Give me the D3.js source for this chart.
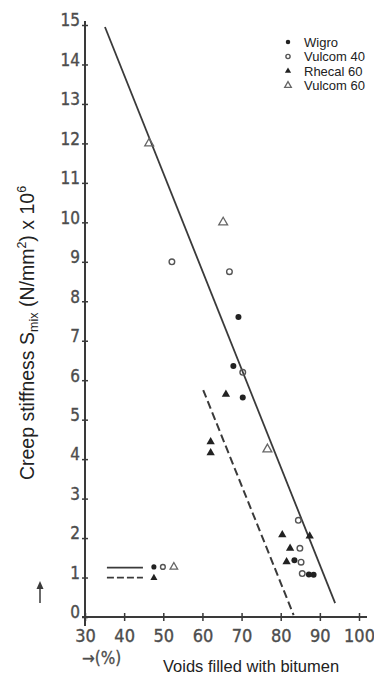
<!DOCTYPE html>
<html>
<head>
<meta charset="utf-8">
<script src="https://cdn.jsdelivr.net/npm/d3@7"></script>
<style>
  html, body { margin: 0; padding: 0; background: #fff; }
  svg { display: block; }
</style>
</head>
<body>
<svg id="chart" width="374" height="677"></svg>
<script>
// Voids filled with bitumen (%) vs creep stiffness of the mix
const xTicks = [30, 40, 50, 60, 70, 80, 90, 100];
const yTicks = [0, 1, 2, 3, 4, 5, 6, 7, 8, 9, 10, 11, 12, 13, 14, 15];

const wigro    = [[69.2, 7.6], [67.9, 6.36], [70.3, 5.56], [83.5, 1.44], [87.2, 1.08], [88.4, 1.07]];
const vulcom40 = [[52.2, 9.0], [66.9, 8.75], [70.3, 6.2], [84.5, 2.45], [84.9, 1.74], [85.2, 1.39], [85.5, 1.1]];
const rhecal60 = [[66.0, 5.64], [62.1, 4.44], [62.1, 4.16], [80.4, 2.08], [87.4, 2.05], [82.4, 1.74], [81.5, 1.40]];
const vulcom60 = [[46.4, 12.0], [65.3, 10.0], [76.6, 4.25]];

// Trend lines: solid for the filler group, dashed for Rhecal 60
const solidLine  = [[35.1, 14.95], [93.9, 0.35]];
const dashedLine = [[60.2, 5.75], [83.3, 0.05]];

// Key in the lower left: line samples with their marker symbols
const keySolid  = [[35.6, 1.25], [44.8, 1.25]];
const keyDashed = [[35.6, 1.0], [44.8, 1.0]];
const keyMarks  = [
  { series: "wigro",    x: 47.6, y: 1.27 },
  { series: "vulcom40", x: 49.9, y: 1.27 },
  { series: "vulcom60", x: 52.7, y: 1.27 },
  { series: "rhecal60", x: 47.6, y: 0.99 }
];

const legendNames = ["Wigro", "Vulcom 40", "Rhecal 60", "Vulcom 60"];
const legendKeys  = ["wigro", "vulcom40", "rhecal60", "vulcom60"];

const svg = d3.select("#chart");
const x = d3.scaleLinear().domain([30, 100]).range([85, 359]);
const y = d3.scaleLinear().domain([0, 15]).range([617, 25]);

const ink = "#3a3a3a";
const tickInk = "#4d4d4d";
const tickFont = "DejaVu Sans Condensed, DejaVu Sans, sans-serif";

// Marker drawing per series
function marker(g, key, px, py, s) {
  s = s || 1;
  if (key === "wigro") {
    g.append("circle").attr("cx", px).attr("cy", py).attr("r", 3 * s).attr("fill", "#222");
  } else if (key === "vulcom40") {
    g.append("circle").attr("cx", px).attr("cy", py).attr("r", 2.8 * s)
      .attr("fill", "none").attr("stroke", "#555").attr("stroke-width", 1.4);
  } else if (key === "rhecal60") {
    g.append("path").attr("d", d3.symbol(d3.symbolTriangle, 30 * s * s)())
      .attr("transform", `translate(${px},${py})`).attr("fill", "#222");
  } else {
    g.append("path").attr("d", d3.symbol(d3.symbolTriangle, 34 * s * s)())
      .attr("transform", `translate(${px},${py})`)
      .attr("fill", "none").attr("stroke", "#666").attr("stroke-width", 1.3);
  }
}

// Y axis
const yAxis = svg.append("g").attr("transform", `translate(${x(30)},0)`)
  .call(d3.axisLeft(y).tickValues(yTicks).tickSize(3).tickPadding(3));
yAxis.select(".domain").remove();
yAxis.selectAll(".tick line").attr("x1", -3).attr("x2", 3).attr("stroke", ink).attr("stroke-width", 1.5);
yAxis.selectAll(".tick text")
  .attr("font-family", tickFont).attr("font-size", 17)
  .attr("fill", tickInk).attr("stroke", tickInk).attr("stroke-width", 0.35)
  .attr("dy", "0.05em").attr("x", -5);
svg.append("line").attr("x1", x(30)).attr("x2", x(30)).attr("y1", 21).attr("y2", 626)
  .attr("stroke", ink).attr("stroke-width", 2);

// X axis
const xAxis = svg.append("g").attr("transform", `translate(0,${y(0)})`)
  .call(d3.axisBottom(x).tickValues(xTicks).tickSize(4).tickPadding(8));
xAxis.select(".domain").remove();
xAxis.selectAll(".tick line").attr("y1", -4).attr("y2", 4).attr("stroke", ink).attr("stroke-width", 1.5);
xAxis.selectAll(".tick text")
  .attr("font-family", tickFont).attr("font-size", 18)
  .attr("fill", tickInk).attr("stroke", tickInk).attr("stroke-width", 0.35);
svg.append("line").attr("x1", 82).attr("x2", 367).attr("y1", y(0)).attr("y2", y(0))
  .attr("stroke", ink).attr("stroke-width", 2);

// Unit marker below the x axis
svg.append("text").attr("x", 82).attr("y", 664)
  .attr("font-family", tickFont).attr("font-size", 17)
  .attr("fill", tickInk).attr("stroke", tickInk).attr("stroke-width", 0.3)
  .text("\u2192(%)");

// X title
svg.append("text").attr("x", 163).attr("y", 672)
  .attr("font-family", "Liberation Sans, Arial, sans-serif")
  .attr("font-size", 16.5).attr("fill", "#222").text("Voids filled with bitumen");

// Y title with subscript and superscripts
const yt = svg.append("text")
  .attr("transform", "translate(34,333) rotate(-90)")
  .attr("text-anchor", "middle")
  .attr("font-family", "Liberation Sans, Arial, sans-serif")
  .attr("font-size", 19.5).attr("fill", "#222");
yt.append("tspan").text("Creep stiffness S");
yt.append("tspan").attr("font-size", 12.5).attr("dy", 4).text("mix");
yt.append("tspan").attr("dy", -4).text(" (N/mm");
yt.append("tspan").attr("font-size", 12.5).attr("dy", -8).text("2");
yt.append("tspan").attr("dy", 8).text(") x 10");
yt.append("tspan").attr("font-size", 12.5).attr("dy", -8).text("6");

// Small upward arrow beside the axis
svg.append("line").attr("x1", 40).attr("x2", 40).attr("y1", 603).attr("y2", 585)
  .attr("stroke", ink).attr("stroke-width", 1.5);
svg.append("path").attr("d", "M36.5,589 L40,581 L43.5,589 Z").attr("fill", ink);

const line = d3.line().x(d => x(d[0])).y(d => y(d[1]));

svg.append("path").attr("d", line(solidLine)).attr("fill", "none")
  .attr("stroke", ink).attr("stroke-width", 1.8);
svg.append("path").attr("d", line(dashedLine)).attr("fill", "none")
  .attr("stroke", ink).attr("stroke-width", 2).attr("stroke-dasharray", "8,4");

svg.append("path").attr("d", line(keySolid)).attr("fill", "none")
  .attr("stroke", ink).attr("stroke-width", 1.8);
svg.append("path").attr("d", line(keyDashed)).attr("fill", "none")
  .attr("stroke", ink).attr("stroke-width", 1.8).attr("stroke-dasharray", "7,3");

const pts = svg.append("g");
const seriesData = { wigro, vulcom40, rhecal60, vulcom60 };
Object.keys(seriesData).forEach(k => {
  seriesData[k].forEach(d => marker(pts, k, x(d[0]), y(d[1])));
});
keyMarks.forEach(d => marker(pts, d.series, x(d.x), y(d.y), 0.85));

// Legend in the upper right
const lg = svg.append("g");
legendNames.forEach((name, i) => {
  const ly = 42 + i * 14.5;
  marker(lg, legendKeys[i], 288, ly, 0.75);
  lg.append("text").attr("x", 304).attr("y", ly + 4.5)
    .attr("font-family", "Liberation Sans, Arial, sans-serif")
    .attr("font-size", 13).attr("fill", "#222").text(name);
});
</script>
</body>
</html>
